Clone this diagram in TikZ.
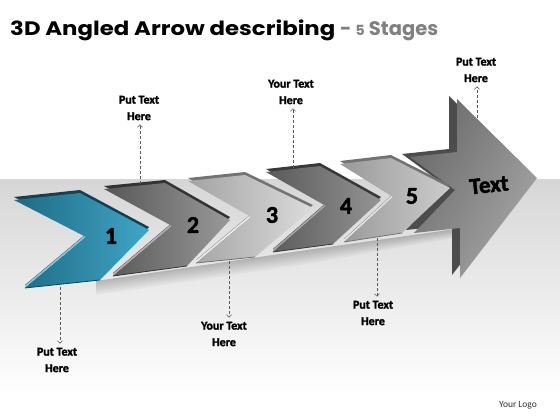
\documentclass[tikz,border=0pt]{standalone}
\usepackage{fontspec}
\setmainfont{Carlito}[FakeBold=1.8]
\newfontfamily\lblfont{Carlito}[FakeBold=1.8]
\newfontfamily\logofont{Carlito}
\newfontfamily\titlefont{Poppins}[FakeStretch=1.17]
\newfontfamily\titlegrey{Poppins}
\usetikzlibrary{arrows.meta}
\definecolor{cAd}{HTML}{1D6A84}
\definecolor{cAl}{HTML}{40A6C6}
\definecolor{cAs}{HTML}{15404F}
\definecolor{cAh}{HTML}{7CCDE6}
\newcommand\chev[9]{%
  \fill[#8,yshift=3pt] (#1) -- (#2) -- (#3) -- (#4) -- (#5) -- (#6) -- cycle;
  \fill[#9] (#6) -- (#5) -- ([yshift=2.5pt]#5) -- ([yshift=2.5pt]#6) -- cycle;
  \path[#7] (#1) -- (#2) -- (#3) -- (#4) -- (#5) -- (#6) -- cycle;
  \draw[#8,line width=0.8pt] (#5) -- (#4);
}
\begin{document}
\begin{tikzpicture}[x=1pt,y=-1pt,
  lbl/.style={font=\lblfont\bfseries\fontsize{12}{16.5}\selectfont, align=center, text=black, inner sep=1pt},
  num/.style={font=\lblfont\bfseries\fontsize{24}{24}\selectfont, text=black, inner sep=0pt},
  conn/.style={densely dashed, draw=black!65, line width=0.6pt, shorten >=3pt,
    -{Straight Barb[length=2.5pt,width=5pt]}},
]
\useasboundingbox (0,0) rectangle (560,420);
\fill[white] (0,0) rectangle (560,420);
\shade[top color=black!16, bottom color=white] (0,179) rectangle (560,395);

% shadow under the arrows
\foreach \h in {2,4,6,8,10,12,14}
  \fill[black, opacity=0.03] (96,281) -- (300,251) -- (456,229) -- (456,229+0.6*\h) -- (300,251+\h) -- (96,281+\h) -- cycle;

% big arrow
\fill[black!70,xshift=-8pt,yshift=3pt] (410,157) -- (457,152) -- (457,99) -- (537,178) -- (460,278) -- (460,228) -- (414,233) -- (455,190) -- cycle;
\path[left color=black!58, right color=black!35, shading angle=60]
  (410,157) -- (457,152) -- (457,99) -- (537,178) -- (460,278) -- (460,228) -- (414,233) -- (455,190) -- cycle;

% chevrons
\chev{340,164}{391,158}{450,188}{402,233}{344,242}{393,197}{left color=black!40, right color=black!20}{black!55}{black!10}
\chev{266,172}{320,166}{381,200}{333,244}{273,252}{326,206}{left color=black!65, right color=black!42}{black!78}{black!35}
\chev{188,181}{245,175}{313,208}{255,257}{196,263}{251,217}{left color=black!36, right color=black!14}{black!55}{black!8}
\chev{104,189}{165,183}{230,220}{187,266}{113,276}{172,226}{left color=black!66, right color=black!40}{black!80}{black!30}
\chev{14,200}{80,193}{149,230}{100,280}{25,288}{86,237}{left color=cAd, right color=cAl}{cAs}{cAh}

% numbers
\node[num] (n1) at (111,236) {1};
\node[num] (n2) at (193,225) {2};
\node[num] (n3) at (272,215) {3};
\node[num] (n4) at (346,206) {4};
\node[num] (n5) at (412,196) {5};
\node[num, font=\lblfont\bfseries\fontsize{23}{23}\selectfont, rotate=6] (nt) at (489,185) {Text};

% title
\node[anchor=base west, inner sep=0pt, font=\titlefont\bfseries\fontsize{19.5}{20}\selectfont] (title) at (10,36)
  {3D Angled Arrow describing {\titlegrey\bfseries\color{black!50}-~{\fontsize{14}{14}\selectfont 5}~Stages}};

% labels
\node[lbl] (t1) at (139,108) {Put Text\\Here};
\node[lbl] (t2) at (291,92) {Your Text\\Here};
\node[lbl] (t3) at (476,70) {Put Text\\Here};
\node[lbl] (b1) at (57,360) {Put Text\\Here};
\node[lbl] (b2) at (224,334) {Your Text\\Here};
\node[lbl] (b3) at (373,313) {Put Text\\Here};
\node[font=\logofont\fontsize{9.5}{10}\selectfont, text=black!80] (logo) at (518,405) {Your Logo};

\coordinate (a1) at (140,184);
\coordinate (a2) at (293,168);
\coordinate (a3) at (477,118);
\coordinate (a4) at (60,287);
\coordinate (a5) at (229,261);
\coordinate (a6) at (377,238);
\draw[conn] (a1) -- (a1 |- t1.south);
\draw[conn] (a2) -- (a2 |- t2.south);
\draw[conn] (a3) -- (a3 |- t3.south);
\draw[conn] (a4) -- (a4 |- b1.north);
\draw[conn] (a5) -- (a5 |- b2.north);
\draw[conn] (a6) -- (a6 |- b3.north);
\end{tikzpicture}
\end{document}
